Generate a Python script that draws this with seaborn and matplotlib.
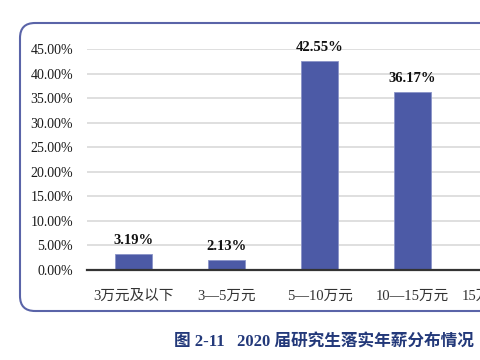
import matplotlib
matplotlib.use('Agg')
import matplotlib.pyplot as plt
import seaborn as sns
import pandas as pd
from matplotlib.patches import FancyBboxPatch
from matplotlib.transforms import IdentityTransform
from matplotlib.ticker import FuncFormatter, FixedLocator

# Datos
categorias = ['3万元及以下', '3—5万元', '5—10万元', '10—15万元', '15万元及以上']
porcentajes = [3.19, 2.13, 42.55, 36.17, 15.96]
ticks_y = [0, 5, 10, 15, 20, 25, 30, 35, 40, 45]
titulo = '图 2-11   2020 届研究生落实年薪分布情况'

df = pd.DataFrame({'categoria': categorias, 'porcentaje': porcentajes})

sns.set_theme(style='white')
plt.rcParams['font.family'] = ['Liberation Serif', 'Noto Sans CJK SC', 'DejaVu Sans']

fig = plt.figure(figsize=(4.8, 3.6), dpi=100)

# Marco redondeado (en píxeles)
marco = FancyBboxPatch((20, 49), 560, 288, boxstyle='round,pad=0,rounding_size=15',
                       transform=IdentityTransform(), facecolor='none',
                       edgecolor='#5A64A8', linewidth=1.5, zorder=-1)
fig.patches.append(marco)

ax = fig.add_axes([87 / 480, 90 / 360, 465 / 480, 221 / 360])
ax.set_facecolor('none')

sns.barplot(data=df, x='categoria', y='porcentaje', color='#4C5AA6',
            width=0.4, saturation=1, edgecolor='#8A93C8', linewidth=0.6, ax=ax, zorder=2)

ax.set_ylim(0, 45)
ax.set_xlim(-0.5, 4.5)
ax.yaxis.set_major_locator(FixedLocator(ticks_y))
ax.yaxis.set_major_formatter(FuncFormatter(lambda v, p: f'{v:.2f}%'))
ax.grid(axis='y', color='#D9D9D9', linewidth=1.2, zorder=1)
ax.set_axisbelow(True)

for s in ['top', 'right', 'left']:
    ax.spines[s].set_visible(False)
ax.spines['bottom'].set_color('#333333')
ax.spines['bottom'].set_linewidth(1.6)
ax.spines['bottom'].set_zorder(3)

ax.tick_params(axis='y', length=0, pad=10, labelsize=10, labelcolor='#1a1a1a')
ax.tick_params(axis='x', which='major', length=0, pad=14, labelsize=10.5, labelcolor='#333333')
ax.set_xticks([i - 0.5 for i in range(6)], minor=True)
ax.tick_params(axis='x', which='minor', length=4, width=1.2, color='#333333', direction='out')
ax.set_xlabel('')
ax.set_ylabel('')

for c in ax.containers:
    ax.bar_label(c, labels=[f'{v:.2f}%' for v in porcentajes], padding=5,
                 fontsize=10.5, fontweight='bold', color='#111111', clip_on=False)

fig.text(324 / 480, 1 - 343 / 360, titulo, ha='center', va='center', fontsize=12,
         fontweight='bold', color='#23397A')

fig.savefig('out.png', dpi=100)
